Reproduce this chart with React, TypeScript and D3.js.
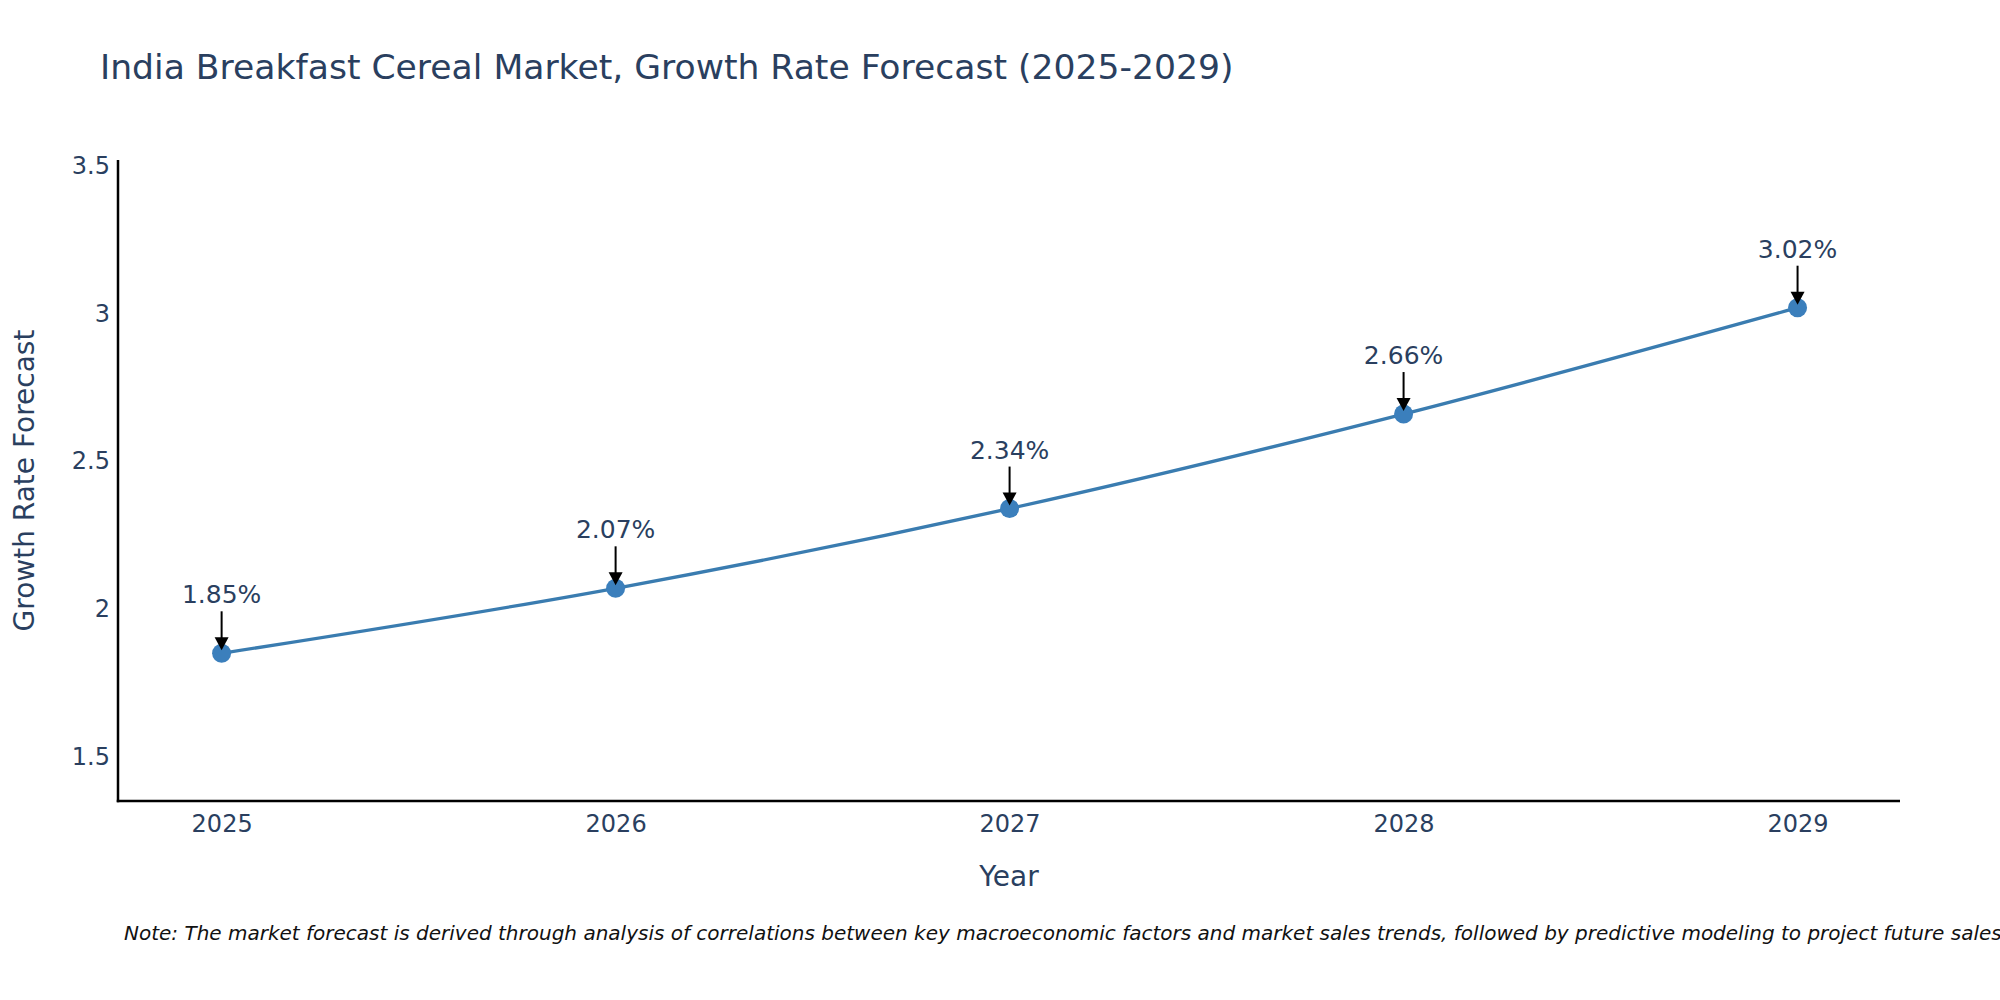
import React, { useEffect, useRef } from 'react';
import * as d3 from 'd3';

const years = [2025, 2026, 2027, 2028, 2029];
const growthRates = [1.85, 2.07, 2.34, 2.66, 3.02];
const yTicks = [1.5, 2, 2.5, 3, 3.5];

const chartTitle = 'India Breakfast Cereal Market, Growth Rate Forecast (2025-2029)';
const xTitle = 'Year';
const yTitle = 'Growth Rate Forecast';
const noteText =
  'Note: The market forecast is derived through analysis of correlations between key macroeconomic factors and market sales trends, followed by predictive modeling to project future sales.';

const WIDTH = 2000;
const HEIGHT = 1000;
const FONT = '"DejaVu Sans", Verdana, sans-serif';
const TEXT_COLOR = '#2a3f5f';

const App: React.FC = () => {
  const svgRef = useRef<SVGSVGElement>(null);

  useEffect(() => {
    if (!svgRef.current) return;
    const svg = d3.select(svgRef.current);
    svg.selectAll('*').remove();

    const plot = { left: 118, right: 1900, top: 160, bottom: 801 };

    const xScale = d3.scaleLinear().domain([2024.737, 2029.26]).range([plot.left, plot.right]);
    const yScale = d3.scaleLinear().domain([1.35, 3.52]).range([plot.bottom, plot.top]);

    svg.append('rect').attr('width', WIDTH).attr('height', HEIGHT).attr('fill', '#fff');

    // Title
    svg.append('text')
      .attr('x', 100)
      .attr('y', 79)
      .style('font-family', FONT)
      .style('font-size', '34.6px')
      .style('fill', TEXT_COLOR)
      .text(chartTitle);

    // Axes
    const xAxis = svg.append('g')
      .attr('transform', `translate(0,${plot.bottom})`)
      .call(d3.axisBottom(xScale).tickValues(years).tickFormat(d3.format('d')).tickSize(0).tickPadding(14));
    xAxis.select('.domain').remove();
    xAxis.selectAll('text')
      .style('font-family', FONT)
      .style('font-size', '24px')
      .style('fill', TEXT_COLOR);

    const yAxis = svg.append('g')
      .attr('transform', `translate(${plot.left},0)`)
      .call(d3.axisLeft(yScale).tickValues(yTicks).tickFormat(d => String(d)).tickSize(0).tickPadding(8));
    yAxis.select('.domain').remove();
    yAxis.selectAll('text')
      .style('font-family', FONT)
      .style('font-size', '24px')
      .style('fill', TEXT_COLOR);

    svg.append('line')
      .attr('x1', plot.left).attr('x2', plot.left)
      .attr('y1', plot.top).attr('y2', plot.bottom + 1.25)
      .attr('stroke', '#000').attr('stroke-width', 2.5);
    svg.append('line')
      .attr('x1', plot.left - 1.25).attr('x2', plot.right)
      .attr('y1', plot.bottom).attr('y2', plot.bottom)
      .attr('stroke', '#000').attr('stroke-width', 2.5);

    // Axis titles
    svg.append('text')
      .attr('x', (plot.left + plot.right) / 2)
      .attr('y', 886)
      .attr('text-anchor', 'middle')
      .style('font-family', FONT)
      .style('font-size', '28px')
      .style('fill', TEXT_COLOR)
      .text(xTitle);

    svg.append('text')
      .attr('transform', `translate(34,${(plot.top + plot.bottom) / 2}) rotate(-90)`)
      .attr('text-anchor', 'middle')
      .style('font-family', FONT)
      .style('font-size', '28px')
      .style('fill', TEXT_COLOR)
      .text(yTitle);

    // Line + markers
    const points = years.map((y, i) => ({ year: y, value: growthRates[i] }));
    const line = d3.line<{ year: number; value: number }>()
      .x(d => xScale(d.year))
      .y(d => yScale(d.value))
      .curve(d3.curveCatmullRom.alpha(0.5));

    svg.append('path')
      .datum(points)
      .attr('fill', 'none')
      .attr('stroke', '#3a7cb0')
      .attr('stroke-width', 3.3)
      .attr('d', line);

    svg.selectAll('.dot')
      .data(points)
      .enter().append('circle')
      .attr('class', 'dot')
      .attr('cx', d => xScale(d.year))
      .attr('cy', d => yScale(d.value))
      .attr('r', 9.5)
      .attr('fill', '#3b7fbc');

    // Annotations with arrows
    const ann = svg.selectAll('.ann')
      .data(points)
      .enter().append('g')
      .attr('class', 'ann')
      .attr('transform', d => `translate(${xScale(d.year)},${yScale(d.value)})`);

    ann.append('line')
      .attr('x1', 0).attr('x2', 0)
      .attr('y1', -42).attr('y2', -15)
      .attr('stroke', '#000').attr('stroke-width', 2);

    ann.append('path')
      .attr('d', 'M-7,-16 L7,-16 L0,-3 Z')
      .attr('fill', '#000');

    ann.append('text')
      .attr('x', 0)
      .attr('y', -50)
      .attr('text-anchor', 'middle')
      .style('font-family', FONT)
      .style('font-size', '25px')
      .style('fill', TEXT_COLOR)
      .text(d => `${d.value.toFixed(2)}%`);

    // Note (runs past the right edge, as in the original)
    svg.append('text')
      .attr('x', 124)
      .attr('y', 940)
      .style('font-family', FONT)
      .style('font-size', '20px')
      .style('font-style', 'italic')
      .style('fill', '#111')
      .text(noteText);
  }, []);

  return (
    <svg
      ref={svgRef}
      width={WIDTH}
      height={HEIGHT}
      style={{ position: 'absolute', left: 0, top: 0, display: 'block' }}
    />
  );
};

export default App;
